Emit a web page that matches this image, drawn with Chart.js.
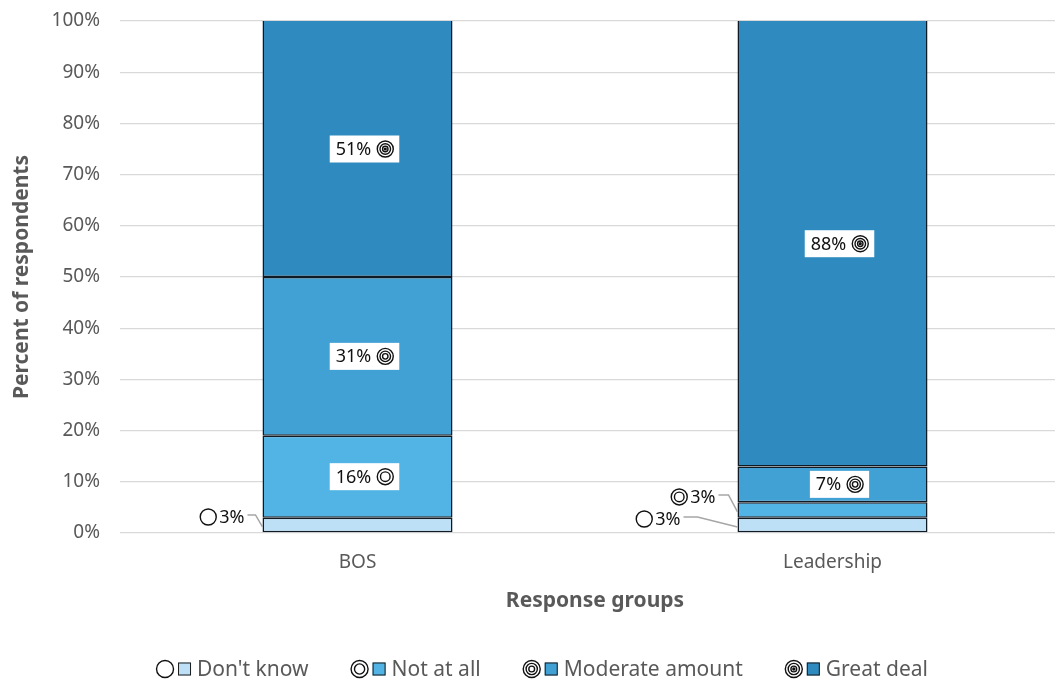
<!DOCTYPE html>
<html>
<head>
<meta charset="utf-8">
<script src="https://cdn.jsdelivr.net/npm/chart.js@4.4.1/dist/chart.umd.min.js"></script>
<style>
html, body { margin: 0; padding: 0; background: #fff; overflow: hidden; }
</style>
</head>
<body>
<canvas id="chart" width="1070" height="681"></canvas>
<script>
const categories = ['BOS', 'Leadership'];
const seriesNames = ["Don't know", 'Not at all', 'Moderate amount', 'Great deal'];
const dontKnow = [3, 3];
const notAtAll = [16, 3];
const moderateAmount = [31, 7];
const greatDeal = [51, 88];
const seriesColors = ['#BDE0F7', '#52B4E5', '#42A1D4', '#2E8ABF'];
const iconKinds = ['ring1', 'ring2', 'ring3', 'target'];

const FONT = '"Noto Sans", "DejaVu Sans", sans-serif';

// small segments get their label outside the bar with a leader line
// (dataset index -> bar index -> placement)
const callouts = {
    0: { 0: { gap: 18, dy: -8, knee: 7 }, 1: { gap: 57, dy: -6, knee: 40 } },
    1: { 1: { gap: 22, dy: -13, knee: 9 } }
};

function drawIcon(ctx, kind, x, y, r) {
    ctx.save();
    ctx.strokeStyle = '#111';
    ctx.lineWidth = 1.4;
    let rings = [r];
    if (kind === 'ring2') rings = [r, r * 0.6];
    if (kind === 'ring3' || kind === 'target') rings = [r, r * 0.66, r * 0.34];
    rings.forEach(rr => {
        ctx.beginPath();
        ctx.arc(x, y, rr, 0, Math.PI * 2);
        ctx.stroke();
    });
    if (kind === 'target') {
        ctx.beginPath();
        ctx.arc(x, y, r * 0.2, 0, Math.PI * 2);
        ctx.fillStyle = '#111';
        ctx.fill();
    }
    ctx.restore();
}

const segmentLabels = {
    id: 'segmentLabels',
    afterDatasetsDraw(chart) {
        const ctx = chart.ctx;
        const area = chart.chartArea;
        const r = 8;
        ctx.save();
        ctx.font = '18px ' + FONT;
        ctx.textBaseline = 'middle';
        chart.data.datasets.forEach((ds, di) => {
            const meta = chart.getDatasetMeta(di);
            meta.data.forEach((bar, i) => {
                const text = ds.data[i] + '%';
                const tw = ctx.measureText(text).width;
                const top = Math.max(bar.y, area.top);
                const bottom = Math.min(bar.base, area.bottom);
                const midY = (top + bottom) / 2;
                const left = bar.x - bar.width / 2;
                const place = callouts[di] && callouts[di][i];
                if (place) {
                    const rightX = left - place.gap;
                    const y = midY + place.dy;
                    ctx.fillStyle = '#111';
                    ctx.textAlign = 'right';
                    ctx.fillText(text, rightX, y + 1);
                    drawIcon(ctx, iconKinds[di], rightX - tw - 3 - r, y, r);
                    ctx.strokeStyle = '#A6A6A6';
                    ctx.lineWidth = 1.5;
                    ctx.beginPath();
                    ctx.moveTo(rightX + 3, y - 2);
                    ctx.lineTo(left - place.knee, y - 2);
                    ctx.lineTo(left, midY + 2);
                    ctx.stroke();
                } else {
                    const w = tw + 6 + 2 * r + 12;
                    const h = 27;
                    const cx = bar.x + 7;
                    const x0 = cx - w / 2;
                    ctx.fillStyle = '#fff';
                    ctx.fillRect(x0, midY - h / 2, w, h);
                    ctx.fillStyle = '#111';
                    ctx.textAlign = 'left';
                    ctx.fillText(text, x0 + 6, midY + 1);
                    drawIcon(ctx, iconKinds[di], x0 + 6 + tw + 6 + r, midY, r);
                }
            });
        });
        ctx.restore();
    }
};

const bottomLegend = {
    id: 'bottomLegend',
    afterDraw(chart) {
        const ctx = chart.ctx;
        const y = 669;
        ctx.save();
        ctx.font = '21px ' + FONT;
        ctx.textBaseline = 'middle';
        ctx.textAlign = 'left';
        const widths = seriesNames.map(n => 41 + ctx.measureText(n).width);
        const gap = 42;
        const total = widths.reduce((a, b) => a + b, 0) + gap * (widths.length - 1);
        let x = chart.width / 2 + 7 - total / 2;
        seriesNames.forEach((name, i) => {
            drawIcon(ctx, iconKinds[i], x + 9, y, 8.5);
            ctx.fillStyle = seriesColors[i];
            ctx.fillRect(x + 22, y - 6.5, 13, 13);
            ctx.strokeStyle = '#1a1a1a';
            ctx.lineWidth = 1;
            ctx.strokeRect(x + 22.5, y - 6, 12, 12);
            ctx.fillStyle = '#595959';
            ctx.fillText(name, x + 41, y + 1);
            x += widths[i] + gap;
        });
        ctx.restore();
    }
};

const seriesData = [dontKnow, notAtAll, moderateAmount, greatDeal];

new Chart(document.getElementById('chart'), {
    type: 'bar',
    data: {
        labels: categories,
        datasets: seriesNames.map((name, i) => ({
            label: name,
            data: seriesData[i],
            backgroundColor: seriesColors[i],
            borderColor: '#0f1a24',
            borderWidth: 1.5,
            borderSkipped: false,
            categoryPercentage: 1,
            barPercentage: 0.4
        }))
    },
    options: {
        responsive: false,
        animation: false,
        layout: { padding: { top: 21, right: 0, bottom: 67, left: 0 } },
        plugins: {
            legend: { display: false },
            tooltip: { enabled: false }
        },
        scales: {
            x: {
                stacked: true,
                grid: { display: false, drawTicks: false },
                border: { display: false },
                ticks: { color: '#595959', font: { family: FONT, size: 19 }, padding: 18 },
                title: {
                    display: true,
                    text: 'Response groups',
                    color: '#595959',
                    font: { family: FONT, size: 21, weight: 'bold' },
                    padding: { top: -3, bottom: 0 }
                }
            },
            y: {
                stacked: true,
                min: 0,
                max: 100,
                afterFit(scale) {
                    scale.width = 120;
                    scale.paddingTop = 0;
                },
                grid: { color: '#D9D9D9', lineWidth: 1.3, drawTicks: false },
                border: { display: false },
                ticks: {
                    stepSize: 10,
                    color: '#595959',
                    font: { family: FONT, size: 19 },
                    padding: 20,
                    callback: v => v + '%'
                },
                title: {
                    display: true,
                    text: 'Percent of respondents',
                    color: '#595959',
                    font: { family: FONT, size: 21, weight: 'bold' },
                    padding: { top: 9, bottom: 0 }
                }
            }
        }
    },
    plugins: [segmentLabels, bottomLegend]
});
</script>
</body>
</html>
